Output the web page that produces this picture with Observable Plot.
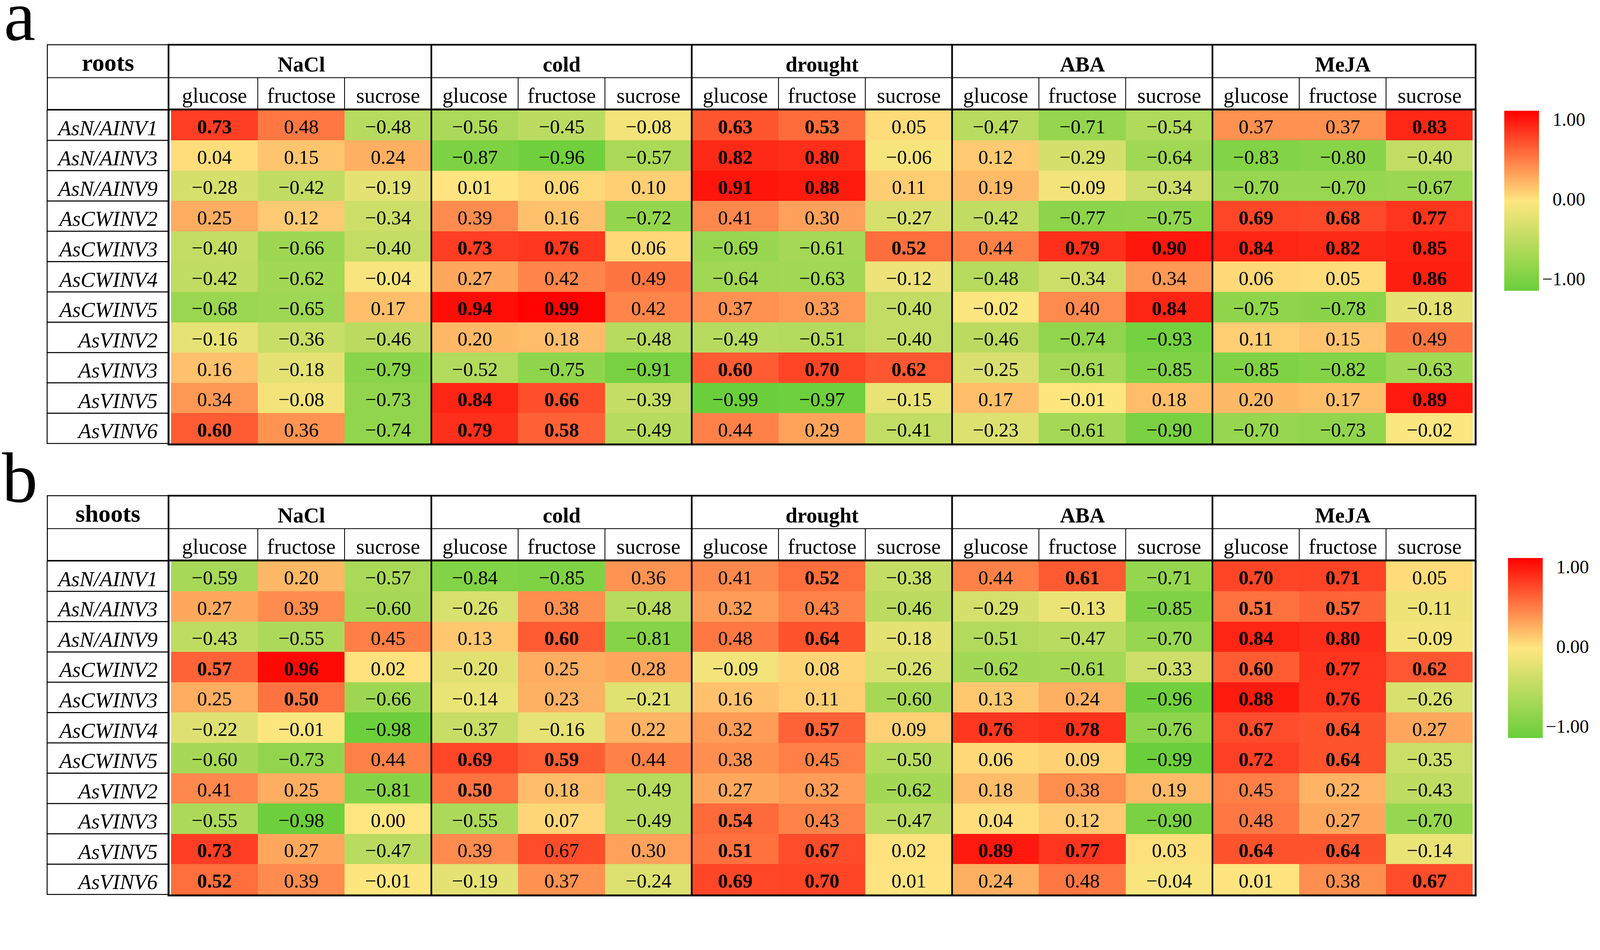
<!DOCTYPE html>
<html><head><meta charset="utf-8">
<script src="https://cdn.jsdelivr.net/npm/d3@7"></script>
<script src="https://cdn.jsdelivr.net/npm/@observablehq/plot@0.6"></script>
<style>
html,body{margin:0;padding:0;background:#fff;overflow:hidden;}
#root{position:relative;width:4277px;height:2431px;overflow:hidden;font-family:"Liberation Serif",serif;background:#fff;transform-origin:0 0;}
#root > svg{position:absolute;}
</style></head><body><div id="root"></div>
<script>
// ---------------- data ----------------
const panels = ["roots", "shoots"];
const panelLetters = ["a", "b"];
const treatments = ["NaCl", "cold", "drought", "ABA", "MeJA"];
const sugars = ["glucose", "fructose", "sucrose"];
const genes = ["AsN/AINV1","AsN/AINV3","AsN/AINV9","AsCWINV2","AsCWINV3","AsCWINV4","AsCWINV5","AsVINV2","AsVINV3","AsVINV5","AsVINV6"];

const rootsValues = [
  [0.73,0.48,-0.48, -0.56,-0.45,-0.08, 0.63,0.53,0.05, -0.47,-0.71,-0.54, 0.37,0.37,0.83],
  [0.04,0.15,0.24, -0.87,-0.96,-0.57, 0.82,0.80,-0.06, 0.12,-0.29,-0.64, -0.83,-0.80,-0.40],
  [-0.28,-0.42,-0.19, 0.01,0.06,0.10, 0.91,0.88,0.11, 0.19,-0.09,-0.34, -0.70,-0.70,-0.67],
  [0.25,0.12,-0.34, 0.39,0.16,-0.72, 0.41,0.30,-0.27, -0.42,-0.77,-0.75, 0.69,0.68,0.77],
  [-0.40,-0.66,-0.40, 0.73,0.76,0.06, -0.69,-0.61,0.52, 0.44,0.79,0.90, 0.84,0.82,0.85],
  [-0.42,-0.62,-0.04, 0.27,0.42,0.49, -0.64,-0.63,-0.12, -0.48,-0.34,0.34, 0.06,0.05,0.86],
  [-0.68,-0.65,0.17, 0.94,0.99,0.42, 0.37,0.33,-0.40, -0.02,0.40,0.84, -0.75,-0.78,-0.18],
  [-0.16,-0.36,-0.46, 0.20,0.18,-0.48, -0.49,-0.51,-0.40, -0.46,-0.74,-0.93, 0.11,0.15,0.49],
  [0.16,-0.18,-0.79, -0.52,-0.75,-0.91, 0.60,0.70,0.62, -0.25,-0.61,-0.85, -0.85,-0.82,-0.63],
  [0.34,-0.08,-0.73, 0.84,0.66,-0.39, -0.99,-0.97,-0.15, 0.17,-0.01,0.18, 0.20,0.17,0.89],
  [0.60,0.36,-0.74, 0.79,0.58,-0.49, 0.44,0.29,-0.41, -0.23,-0.61,-0.90, -0.70,-0.73,-0.02]
];
const shootsValues = [
  [-0.59,0.20,-0.57, -0.84,-0.85,0.36, 0.41,0.52,-0.38, 0.44,0.61,-0.71, 0.70,0.71,0.05],
  [0.27,0.39,-0.60, -0.26,0.38,-0.48, 0.32,0.43,-0.46, -0.29,-0.13,-0.85, 0.51,0.57,-0.11],
  [-0.43,-0.55,0.45, 0.13,0.60,-0.81, 0.48,0.64,-0.18, -0.51,-0.47,-0.70, 0.84,0.80,-0.09],
  [0.57,0.96,0.02, -0.20,0.25,0.28, -0.09,0.08,-0.26, -0.62,-0.61,-0.33, 0.60,0.77,0.62],
  [0.25,0.50,-0.66, -0.14,0.23,-0.21, 0.16,0.11,-0.60, 0.13,0.24,-0.96, 0.88,0.76,-0.26],
  [-0.22,-0.01,-0.98, -0.37,-0.16,0.22, 0.32,0.57,0.09, 0.76,0.78,-0.76, 0.67,0.64,0.27],
  [-0.60,-0.73,0.44, 0.69,0.59,0.44, 0.38,0.45,-0.50, 0.06,0.09,-0.99, 0.72,0.64,-0.35],
  [0.41,0.25,-0.81, 0.50,0.18,-0.49, 0.27,0.32,-0.62, 0.18,0.38,0.19, 0.45,0.22,-0.43],
  [-0.55,-0.98,0.00, -0.55,0.07,-0.49, 0.54,0.43,-0.47, 0.04,0.12,-0.90, 0.48,0.27,-0.70],
  [0.73,0.27,-0.47, 0.39,0.67,0.30, 0.51,0.67,0.02, 0.89,0.77,0.03, 0.64,0.64,-0.14],
  [0.52,0.39,-0.01, -0.19,0.37,-0.24, 0.69,0.70,0.01, 0.24,0.48,-0.04, 0.01,0.38,0.67]
];
// 1 = printed in bold (significant)
const rootsBold = [
  [1,0,0, 0,0,0, 1,1,0, 0,0,0, 0,0,1],
  [0,0,0, 0,0,0, 1,1,0, 0,0,0, 0,0,0],
  [0,0,0, 0,0,0, 1,1,0, 0,0,0, 0,0,0],
  [0,0,0, 0,0,0, 0,0,0, 0,0,0, 1,1,1],
  [0,0,0, 1,1,0, 0,0,1, 0,1,1, 1,1,1],
  [0,0,0, 0,0,0, 0,0,0, 0,0,0, 0,0,1],
  [0,0,0, 1,1,0, 0,0,0, 0,0,1, 0,0,0],
  [0,0,0, 0,0,0, 0,0,0, 0,0,0, 0,0,0],
  [0,0,0, 0,0,0, 1,1,1, 0,0,0, 0,0,0],
  [0,0,0, 1,1,0, 0,0,0, 0,0,0, 0,0,1],
  [1,0,0, 1,1,0, 0,0,0, 0,0,0, 0,0,0]
];
const shootsBold = [
  [0,0,0, 0,0,0, 0,1,0, 0,1,0, 1,1,0],
  [0,0,0, 0,0,0, 0,0,0, 0,0,0, 1,1,0],
  [0,0,0, 0,1,0, 0,1,0, 0,0,0, 1,1,0],
  [1,1,0, 0,0,0, 0,0,0, 0,0,0, 1,1,1],
  [0,1,0, 0,0,0, 0,0,0, 0,0,0, 1,1,0],
  [0,0,0, 0,0,0, 0,1,0, 1,1,0, 1,1,0],
  [0,0,0, 1,1,0, 0,0,0, 0,0,0, 1,1,0],
  [0,0,0, 1,0,0, 0,0,0, 0,0,0, 0,0,0],
  [0,0,0, 0,0,0, 1,0,0, 0,0,0, 0,0,0],
  [1,0,0, 0,0,0, 1,1,0, 1,1,0, 1,1,0],
  [1,0,0, 0,0,0, 1,1,0, 0,0,0, 0,0,1]
];
const colorDomain = [-1, 0, 1];
const colorRange = ["#6acf3a", "#ffe680", "#ff0000"];
const legendTicks = [1, 0, -1];

// ---------------- derived tables ----------------
const panelValues = {roots: rootsValues, shoots: shootsValues};
const panelBold = {roots: rootsBold, shoots: shootsBold};
const cols = treatments.flatMap(t => sugars.map(s => t + "|" + s));
const fmt = d3.format(".2f");
const cells = [];
for (const p of panels) genes.forEach((g, i) => cols.forEach((c, j) => {
  cells.push({panel: p, gene: g, col: c, value: panelValues[p][i][j], bold: panelBold[p][i][j] === 1});
}));
const rowLabels = panels.flatMap(p => genes.map(g => ({panel: p, gene: g})));
const groupHeaders = panels.flatMap(p => treatments.map(t => ({panel: p, treatment: t, col: t + "|" + sugars[1]})));
const sugarHeaders = panels.flatMap(p => cols.map(c => ({panel: p, col: c, sugar: c.split("|")[1]})));
const cornerLabels = panels.map(p => ({panel: p, text: p}));
const groupStarts = treatments.slice(1).map(t => t + "|" + sugars[0]);
const subStarts = treatments.flatMap(t => sugars.slice(1).map(s => t + "|" + s));

// ---------------- layout ----------------
const W = 4277, H = 2431;
const mL = 450, mR = 333, mT = 292, mB = 39;
const facetH = 895, facetGap = 310;
const frameW = W - mL - mR;
const bw = frameW / cols.length;
const hdrTop = -173, hdrDiv = -85, labelW = 324;
const FS = 57, FSnum = 53;
const font = "Liberation Serif";

const root = document.getElementById("root");
// fit the fixed-size figure to the actual viewport
const fit = Math.min(window.innerWidth / W, window.innerHeight / H);
if (isFinite(fit) && fit > 0 && Math.abs(fit - 1) > 0.002) root.style.transform = `scale(${fit})`;

const chart = Plot.plot({
  width: W, height: H,
  marginLeft: mL, marginRight: mR, marginTop: mT, marginBottom: mB,
  style: {fontFamily: font, color: "#000", background: "transparent"},
  x: {domain: cols, padding: 0, axis: null},
  y: {domain: genes, padding: 0, axis: null},
  fy: {domain: panels, axis: null, paddingInner: facetGap / (facetH + facetGap), paddingOuter: 0},
  color: {type: "linear", domain: colorDomain, range: colorRange, interpolate: "rgb"},
  marks: [
    Plot.cell(cells, {x: "col", y: "gene", fy: "panel", fill: "value", shapeRendering: "crispEdges"}),
    // label column boxes
    Plot.cell(rowLabels, {y: "gene", fy: "panel", fill: "none", stroke: "#000", strokeWidth: 2.5, insetLeft: -labelW, insetRight: frameW}),
    Plot.frame({stroke: "#000", strokeWidth: 2.5, insetTop: hdrTop, insetBottom: facetH, insetLeft: -labelW, insetRight: frameW}),
    // header divider
    Plot.frame({stroke: "#000", strokeWidth: 2.2, insetTop: hdrDiv, insetBottom: facetH, insetLeft: -labelW}),
    // sub-column separators in the header
    Plot.ruleX(subStarts, {x: d => d, dx: -bw / 2, insetTop: hdrDiv, insetBottom: facetH, stroke: "#000", strokeWidth: 2.2}),
    // treatment separators
    Plot.ruleX(groupStarts, {x: d => d, dx: -bw / 2, insetTop: hdrTop, stroke: "#000", strokeWidth: 4.5}),
    // outer frame and header/data separator
    Plot.frame({stroke: "#000", strokeWidth: 4.5, insetTop: hdrTop}),
    Plot.frame({stroke: "#000", strokeWidth: 5}),
    // texts
    Plot.text(cells.filter(d => !d.bold), {x: "col", y: "gene", fy: "panel", text: d => fmt(d.value), fontSize: FSnum, lineAnchor: "bottom", dy: 21, fill: "#000"}),
    Plot.text(cells.filter(d => d.bold), {x: "col", y: "gene", fy: "panel", text: d => fmt(d.value), fontSize: FSnum, fontWeight: "bold", lineAnchor: "bottom", dy: 21, fill: "#000"}),
    Plot.text(rowLabels, {y: "gene", fy: "panel", text: "gene", frameAnchor: "left", textAnchor: "end", dx: -29, lineAnchor: "bottom", dy: 26, fontSize: FS, fontStyle: "italic", fill: "#000"}),
    Plot.text(groupHeaders, {x: "col", fy: "panel", text: "treatment", frameAnchor: "top", lineAnchor: "bottom", dy: -101, fontSize: FS, fontWeight: "bold", fill: "#000"}),
    Plot.text(sugarHeaders, {x: "col", fy: "panel", text: "sugar", frameAnchor: "top", lineAnchor: "bottom", dy: -18, fontSize: FS, fill: "#000"}),
    Plot.text(cornerLabels, {fy: "panel", text: "text", frameAnchor: "top-left", textAnchor: "middle", dx: -labelW / 2, lineAnchor: "bottom", dy: -104, fontSize: 65, fontWeight: "bold", fill: "#000"}),
    Plot.text([{panel: panels[0], t: panelLetters[0]}], {fy: "panel", text: "t", frameAnchor: "top-left", textAnchor: "start", dx: -440, dy: -186, lineAnchor: "bottom", fontSize: 190, fill: "#000"}),
    Plot.text([{panel: panels[1], t: panelLetters[1]}], {fy: "panel", text: "t", frameAnchor: "top-left", textAnchor: "start", dx: -445, dy: -157, lineAnchor: "bottom", fontSize: 190, fill: "#000"})
  ]
});
chart.style.left = "0px";
chart.style.top = "0px";
root.appendChild(chart);

// ---------------- colour bar legends ----------------
const colorScale = chart.scale("color");
function colorBar(id, barLeft, barTop) {
  const lw = 280, lh = 560, lmL = 30, barW = 93;
  const padTop = 36, labTop = 24, labBottom = 450, barH = 481;
  const legend = Plot.plot({
    width: lw, height: lh,
    marginLeft: lmL, marginRight: lw - lmL - barW,
    marginTop: padTop + labTop, marginBottom: lh - (padTop + labBottom),
    style: {fontFamily: font, color: "#000", background: "transparent"},
    x: {axis: null},
    y: {domain: [-1, 1], axis: null},
    marks: [
      Plot.rect([[-1, 1]], {y1: d => d[0], y2: d => d[1], fill: `url(#${id})`, insetTop: -labTop, insetBottom: -(barH - labBottom)}),
      Plot.text(legendTicks, {y: d => d, text: d => fmt(d), frameAnchor: "right", textAnchor: "end", dx: 123, fontSize: 50, fill: "#000"})
    ]
  });
  const ns = "http://www.w3.org/2000/svg";
  const defs = document.createElementNS(ns, "defs");
  const grad = document.createElementNS(ns, "linearGradient");
  grad.setAttribute("id", id);
  grad.setAttribute("x1", "0"); grad.setAttribute("y1", "0");
  grad.setAttribute("x2", "0"); grad.setAttribute("y2", "1");
  [...colorDomain].reverse().forEach((v, i, arr) => {
    const stop = document.createElementNS(ns, "stop");
    stop.setAttribute("offset", (i / (arr.length - 1) * 100) + "%");
    stop.setAttribute("stop-color", colorScale.apply(v));
    grad.appendChild(stop);
  });
  defs.appendChild(grad);
  legend.insertBefore(defs, legend.firstChild);
  legend.style.left = (barLeft - lmL) + "px";
  legend.style.top = (barTop - padTop) + "px";
  root.appendChild(legend);
}
colorBar("grad-a", 4021, 296);
colorBar("grad-b", 4031, 1491);
</script>
</body></html>
